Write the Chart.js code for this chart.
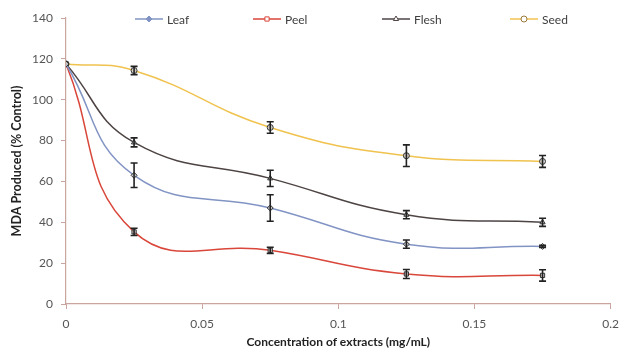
<!DOCTYPE html>
<html>
<head>
<meta charset="utf-8">
<script src="https://cdn.jsdelivr.net/npm/chart.js@4/dist/chart.umd.min.js"></script>
<style>
html,body{margin:0;padding:0;background:#fff;}
#wrap{width:627px;height:349px;position:relative;}
</style>
</head>
<body>
<div id="wrap"><canvas id="c" width="627" height="349"></canvas></div>
<script>
const concentrations = [0, 0.025, 0.075, 0.125, 0.175];
const seriesNames = ['Leaf', 'Peel', 'Flesh', 'Seed'];
const leafValues  = [117.5, 63, 47, 29.3, 28.2];
const leafErrors  = [0, 6, 6.5, 2, 0.5];
const peelValues  = [117.5, 35.3, 26.3, 14.7, 14];
const peelErrors  = [0, 1.8, 1.5, 2.2, 2.8];
const fleshValues = [117.5, 79.1, 61.5, 43.7, 40];
const fleshErrors = [0, 2.2, 4, 2, 2];
const seedValues  = [117.5, 114.3, 86.4, 72.6, 69.8];
const seedErrors  = [0, 2, 2.8, 5.3, 2.9];
const xTicks = [0, 0.05, 0.1, 0.15, 0.2];
const yTicks = [0, 20, 40, 60, 80, 100, 120, 140];

const FONT = 'Lato, "Open Sans", sans-serif';
const axisColor = '#c9a59e';
const colors = { Leaf: '#8294c4', Peel: '#d9463a', Flesh: '#4e4444', Seed: '#f0c24e' };
const markers = { Leaf: 'rectRot', Peel: 'rect', Flesh: 'triangle', Seed: 'circle' };
const valueSets = { Leaf: leafValues, Peel: peelValues, Flesh: fleshValues, Seed: seedValues };
const errorSets = { Leaf: leafErrors, Peel: peelErrors, Flesh: fleshErrors, Seed: seedErrors };

const datasets = seriesNames.map(name => ({
  label: name,
  data: concentrations.map((x, i) => ({ x: x, y: valueSets[name][i] })),
  errors: errorSets[name],
  borderColor: colors[name],
  backgroundColor: colors[name],
  borderWidth: 1.5,
  tension: 0.45,
  pointStyle: markers[name],
  pointRadius: 3,
  pointBorderColor: '#333',
  pointBackgroundColor: 'rgba(200,200,200,0.8)',
  pointBorderWidth: 1
}));

const errorBarPlugin = {
  id: 'errorBars',
  afterDatasetsDraw(chart) {
    const ctx = chart.ctx;
    const xs = chart.scales.x, ys = chart.scales.y;
    ctx.save();
    ctx.strokeStyle = '#222';
    ctx.lineWidth = 1.6;
    chart.data.datasets.forEach(ds => {
      ds.data.forEach((p, i) => {
        const e = ds.errors[i];
        if (!e) return;
        const px = xs.getPixelForValue(p.x);
        const top = ys.getPixelForValue(p.y + e);
        const bot = ys.getPixelForValue(p.y - e);
        ctx.beginPath();
        ctx.moveTo(px, top); ctx.lineTo(px, bot);
        ctx.moveTo(px - 3.5, top); ctx.lineTo(px + 3.5, top);
        ctx.moveTo(px - 3.5, bot); ctx.lineTo(px + 3.5, bot);
        ctx.stroke();
      });
    });
    ctx.restore();
  }
};

const legendPlugin = {
  id: 'inlineLegend',
  afterDraw(chart) {
    const ctx = chart.ctx;
    const xPos = [135, 253, 382, 510];
    const y = 19;
    ctx.save();
    chart.data.datasets.forEach((ds, i) => {
      const x0 = xPos[i];
      ctx.strokeStyle = ds.borderColor;
      ctx.lineWidth = 1.5;
      ctx.beginPath(); ctx.moveTo(x0, y); ctx.lineTo(x0 + 28, y); ctx.stroke();
      ctx.fillStyle = ds.label === 'Leaf' ? ds.borderColor : '#fff';
      ctx.strokeStyle = ds.label === 'Seed' ? '#9a7a3a' : ds.borderColor;
      ctx.lineWidth = 1;
      Chart.helpers.drawPoint(ctx, { pointStyle: ds.pointStyle, radius: 3, borderWidth: 1 }, x0 + 14, y);
      ctx.fillStyle = '#404040';
      ctx.font = '12px ' + FONT;
      ctx.textBaseline = 'middle';
      ctx.textAlign = 'left';
      ctx.fillText(ds.label, x0 + 32, y + 1);
    });
    ctx.restore();
  }
};

new Chart(document.getElementById('c'), {
  type: 'line',
  data: { datasets: datasets },
  plugins: [errorBarPlugin, legendPlugin],
  options: {
    responsive: false,
    animation: false,
    layout: { padding: { top: 18, right: 12, left: 0, bottom: 0 } },
    plugins: { legend: { display: false }, tooltip: { enabled: false } },
    scales: {
      x: {
        type: 'linear',
        min: 0, max: 0.2,
        afterBuildTicks(scale) { scale.ticks = xTicks.map(v => ({ value: v })); },
        afterFit(scale) { scale.height = 45; },
        border: { color: axisColor, width: 1.2 },
        grid: { display: true, drawOnChartArea: false, drawTicks: true, tickLength: 5, color: axisColor },
        ticks: { color: '#555', font: { family: FONT, size: 12 }, padding: 8, maxRotation: 0,
                 callback: v => String(v) },
        title: { display: true, text: 'Concentration of extracts (mg/mL)', color: '#222',
                 font: { family: FONT, size: 12, weight: 'bold' }, padding: { top: 0, bottom: 0 } }
      },
      y: {
        type: 'linear',
        min: 0, max: 140,
        afterBuildTicks(scale) { scale.ticks = yTicks.map(v => ({ value: v })); },
        afterFit(scale) { scale.width = 66; },
        border: { color: axisColor, width: 1.2 },
        grid: { display: true, drawOnChartArea: false, drawTicks: true, tickLength: 5, color: axisColor },
        ticks: { color: '#555', font: { family: FONT, size: 12 }, padding: 8 },
        title: { display: true, text: 'MDA Produced (% Control)', color: '#222',
                 font: { family: FONT, size: 12.5, weight: 'bold' }, padding: { top: 9, bottom: 0 } }
      }
    }
  }
});
</script>
</body>
</html>
